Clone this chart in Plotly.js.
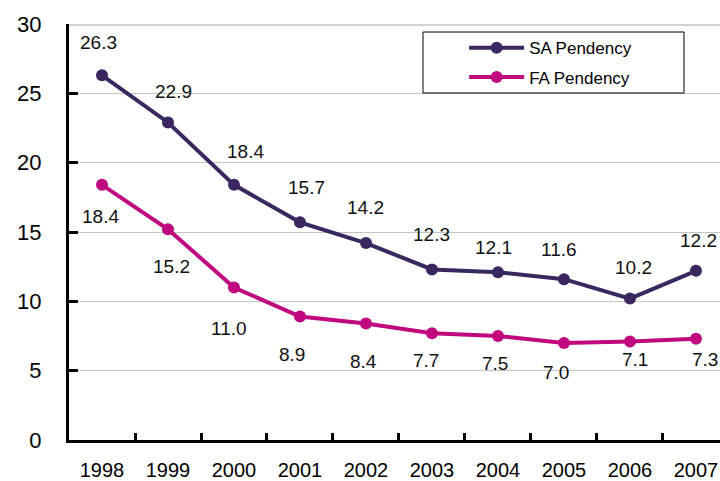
<!DOCTYPE html>
<html><head><meta charset="utf-8">
<script src="https://cdn.plot.ly/plotly-3.0.1.min.js"></script>
<style>html,body{margin:0;padding:0;background:#fff}#chart{width:720px;height:481px}</style>
</head><body><div id="chart"></div>
<script>
const years = ['1998','1999','2000','2001','2002','2003','2004','2005','2006','2007'];
const saPendency = [26.3,22.9,18.4,15.7,14.2,12.3,12.1,11.6,10.2,12.2];
const faPendency = [18.4,15.2,11.0,8.9,8.4,7.7,7.5,7.0,7.1,7.3];
const seriesNames = ['SA Pendency','FA Pendency'];
const yTicks = [0,5,10,15,20,25,30];

// label offsets (px) relative to each point
const saShiftX = [-4,5,12,7,0,0,-4,-5,4,3];
const saShiftY = [33,31,33,35,36,35,25,30,31,30];
const faShiftX = [-2,3,-5,-8,-2,-6,-3,-8,5,9];
const faShiftY = [-32,-37,-41,-38,-38,-27,-27,-30,-18,-21];

const saColor = '#3b2760';
const faColor = '#c0087f';
const fam = 'Liberation Sans, Arial, sans-serif';

const traces = [
  {x: years, y: saPendency, name: seriesNames[0], type: 'scatter', mode: 'lines+markers',
   line: {color: saColor, width: 4}, marker: {color: saColor, size: 12}, legendgroup: 'a', cliponaxis: false},
  {x: years, y: faPendency, name: seriesNames[1], type: 'scatter', mode: 'lines+markers',
   line: {color: faColor, width: 4}, marker: {color: faColor, size: 12}, legendgroup: 'b', cliponaxis: false}
];

const annotations = [];
years.forEach((yr, i) => {
  annotations.push({xref: 'x', yref: 'y', x: i, y: saPendency[i], text: saPendency[i].toFixed(1), showarrow: false,
    xshift: saShiftX[i], yshift: saShiftY[i], font: {family: fam, size: 19, color: '#111'}});
  annotations.push({xref: 'x', yref: 'y', x: i, y: faPendency[i], text: faPendency[i].toFixed(1), showarrow: false,
    xshift: faShiftX[i], yshift: faShiftY[i], font: {family: fam, size: 19, color: '#111'}});
});

const layout = {
  width: 720, height: 481,
  margin: {l: 69, r: 0, t: 24, b: 41, pad: 0},
  paper_bgcolor: '#fff', plot_bgcolor: '#fff',
  font: {family: fam, color: '#000'},
  showlegend: true,
  legend: {x: 0.607, y: 0.985, xanchor: 'left', yanchor: 'top', bgcolor: 'rgba(0,0,0,0)', itemwidth: 55,
    borderwidth: 0, font: {family: fam, size: 17, color: '#000'}, traceorder: 'grouped', tracegroupgap: 4},
  xaxis: {type: 'category', range: [-0.5, 9.364], tickson: 'boundaries', ticks: 'inside', ticklen: 7,
    tickwidth: 3, tickcolor: '#000', showline: true, linewidth: 3, linecolor: '#000', showgrid: false,
    zeroline: false, tickfont: {family: fam, size: 20, color: '#000'}, ticklabelstandoff: 10, fixedrange: true},
  yaxis: {range: [0, 30], tickvals: yTicks, ticktext: yTicks.map(String), ticks: 'inside', ticklen: 9, tickwidth: 3,
    tickcolor: '#000', showline: true, linewidth: 3, linecolor: '#000', showgrid: true, gridcolor: '#c4c4c4',
    gridwidth: 1, zeroline: false, tickfont: {family: fam, size: 22, color: '#000'}, ticklabelstandoff: 20, fixedrange: true},
  shapes: [
    {type: 'line', xref: 'paper', yref: 'y', x0: 0, x1: 1, y0: 30, y1: 30, layer: 'below',
     line: {color: '#d2d2d2', width: 4}},
    {type: 'rect', xref: 'paper', yref: 'paper', x0: (423-69)/651, x1: (684-69)/651, y0: (440-93)/416, y1: (440-32)/416,
     line: {color: '#000', width: 1}, fillcolor: 'rgba(0,0,0,0)', layer: 'above'}
  ],
  annotations: annotations
};

Plotly.newPlot('chart', traces, layout, {displayModeBar: false, staticPlot: true});
</script>
</body></html>
